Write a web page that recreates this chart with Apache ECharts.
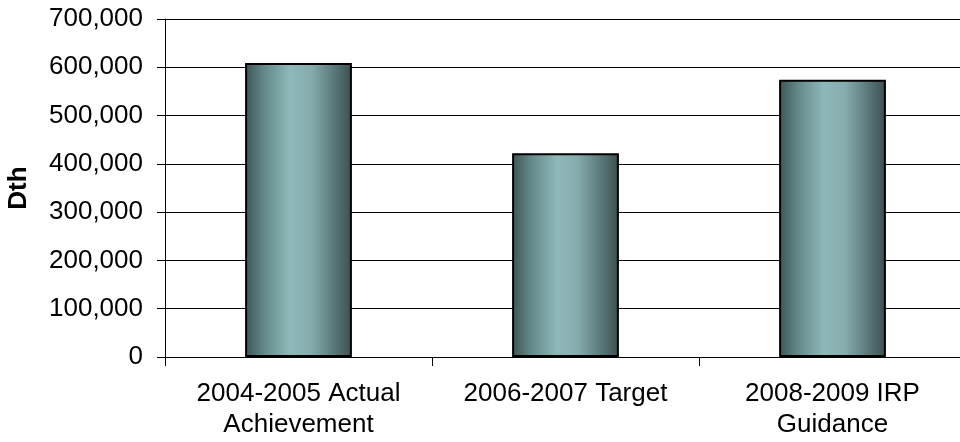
<!DOCTYPE html>
<html>
<head>
<meta charset="utf-8">
<script src="https://cdn.jsdelivr.net/npm/echarts@6/dist/echarts.min.js"></script>
<style>
  html, body { margin: 0; padding: 0; background: #ffffff; }
  #chart { width: 960px; height: 442px; }
</style>
</head>
<body>
<div id="chart"></div>
<script>
// Savings by period, in Dth
const categories = ['2004-2005 Actual\nAchievement', '2006-2007 Target', '2008-2009 IRP\nGuidance'];
const values = [609000, 422000, 574000];
const yTicks = { min: 0, max: 700000, interval: 100000 };

const chart = echarts.init(document.getElementById('chart'), null, { renderer: 'canvas' });

const barFill = new echarts.graphic.LinearGradient(0, 0, 1, 0, [
  { offset: 0.0, color: '#3e5455' },
  { offset: 0.18, color: '#64898a' },
  { offset: 0.42, color: '#8fb8ba' },
  { offset: 0.62, color: '#86abad' },
  { offset: 0.85, color: '#577475' },
  { offset: 1.0, color: '#3b4f50' }
]);

const font = '"Liberation Sans", Arial, sans-serif';

chart.setOption({
  animation: false,
  backgroundColor: '#ffffff',
  grid: {
    left: 165,
    top: 19,
    width: 801,
    height: 338,
    outerBoundsMode: 'none',
    containLabel: false
  },
  xAxis: {
    type: 'category',
    data: categories,
    axisLine: { lineStyle: { color: '#000', width: 1 } },
    axisTick: { show: true, length: 9, alignWithLabel: false, lineStyle: { color: '#000' } },
    axisLabel: {
      color: '#000',
      fontFamily: font,
      fontSize: 26,
      lineHeight: 31,
      margin: 21,
      interval: 0
    },
    splitLine: { show: false }
  },
  yAxis: {
    type: 'value',
    min: yTicks.min,
    max: yTicks.max,
    interval: yTicks.interval,
    name: 'Dth',
    nameLocation: 'middle',
    nameGap: 133,
    nameRotate: 90,
    nameTextStyle: { color: '#000', fontFamily: font, fontSize: 26, fontWeight: 'bold' },
    axisLine: { show: true, lineStyle: { color: '#000', width: 1 } },
    axisTick: { show: true, length: 8, lineStyle: { color: '#000' } },
    axisLabel: {
      color: '#000',
      fontFamily: font,
      fontSize: 26,
      margin: 22,
      formatter: v => v.toLocaleString('en-US')
    },
    splitLine: { show: true, lineStyle: { color: '#000', width: 1 } }
  },
  series: [{
    type: 'bar',
    data: values,
    barWidth: '40%',
    itemStyle: {
      color: barFill,
      borderColor: '#000',
      borderWidth: 2
    }
  }]
});
</script>
</body>
</html>
